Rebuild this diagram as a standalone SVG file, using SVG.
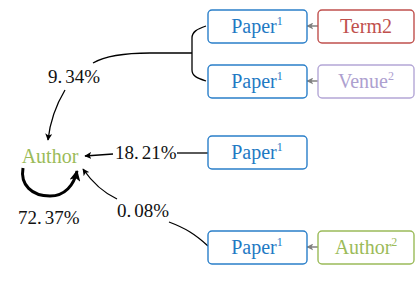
<svg xmlns="http://www.w3.org/2000/svg" width="415" height="297" viewBox="0 0 415 297">
<style>
.box{fill:#fff;stroke-width:1.4}
.t{font-family:"Liberation Serif","Times New Roman",serif;font-size:20px;text-anchor:middle}
.lbl{font-family:"Liberation Serif","Times New Roman",serif;font-size:19px;fill:#111}
.sup{font-size:12px}
.blue{stroke:#2a7fc9;fill:#fff}
.bt{fill:#1f7ac4}
.conn{fill:none;stroke:#000;stroke-width:1.3}
.gray{fill:none;stroke:#808080;stroke-width:1.5}
</style>
<defs>
<marker id="ah" viewBox="0 0 10 10" refX="9" refY="5" markerWidth="7" markerHeight="7" orient="auto" markerUnits="userSpaceOnUse">
<path d="M0,0 L10,5 L0,10 L2.5,5 z" fill="#000"/>
</marker>
<marker id="ahb" viewBox="0 0 10 10" refX="9" refY="5" markerWidth="11" markerHeight="11" orient="auto" markerUnits="userSpaceOnUse">
<path d="M0,0 L10,5 L0,10 L2.5,5 z" fill="#000"/>
</marker>
<marker id="ahg" viewBox="0 0 10 10" refX="9" refY="5" markerWidth="7" markerHeight="7" orient="auto" markerUnits="userSpaceOnUse">
<path d="M0,0 L10,5 L0,10 L2.5,5 z" fill="#808080"/>
</marker>
</defs>

<g id="connectors">
<path class="conn" d="M206,26 C197,29 192,32 192,38 L192,70 C192,76 197,78 206,81"/>
<path class="conn" d="M192,53 L150,53 C125,53 105,56 93,63"/>
<path class="conn" d="M65,90 C56,105 50,122 48,140" marker-end="url(#ah)"/>
<path class="conn" d="M208,153 L177,153"/>
<path class="conn" d="M113,154 L85,156" marker-end="url(#ah)"/>
<path class="conn" d="M208,246 C195,234 185,228 169,222"/>
<path class="conn" d="M117,199 C102,192 92,182 83,169" marker-end="url(#ah)"/>
<path d="M23,168 C20,185 32,196 50,196 C65,196 74,185 77,171" fill="none" stroke="#000" stroke-width="3" marker-end="url(#ahb)"/>
<path class="gray" d="M318,26 L307,26" marker-end="url(#ahg)"/>
<path class="gray" d="M318,81 L307,81" marker-end="url(#ahg)"/>
<path class="gray" d="M318,247 L307,247" marker-end="url(#ahg)"/>
</g>

<g id="lbl934"><text class="lbl" x="48" y="83">9.<tspan dx="3">34%</tspan></text></g>
<g id="lbl1821"><text class="lbl" x="115" y="159">18.<tspan dx="3">21%</tspan></text></g>
<g id="lbl008"><text class="lbl" x="117" y="217">0.<tspan dx="3">08%</tspan></text></g>
<g id="lbl7237"><text class="lbl" x="18" y="224">72.<tspan dx="3">37%</tspan></text></g>

<g id="author"><text class="t" x="50" y="163" fill="#9bbb59">Author</text></g>

<g id="paper1">
<rect class="box blue" x="208" y="10" width="99" height="33" rx="4"/>
<text class="t bt" x="257" y="33">Paper<tspan class="sup" dy="-8">1</tspan></text>
</g>
<g id="term2">
<rect class="box" x="318" y="10" width="96" height="33" rx="4" stroke="#c0504d"/>
<text class="t" x="366" y="33" fill="#c0504d">Term2</text>
</g>
<g id="paper2">
<rect class="box blue" x="208" y="65" width="99" height="33" rx="4"/>
<text class="t bt" x="257" y="88">Paper<tspan class="sup" dy="-8">1</tspan></text>
</g>
<g id="venue">
<rect class="box" x="318" y="65" width="96" height="33" rx="4" stroke="#b4a7d6"/>
<text class="t" x="366" y="88" fill="#ada0cf">Venue<tspan class="sup" dy="-8">2</tspan></text>
</g>
<g id="paper3">
<rect class="box blue" x="208" y="136" width="99" height="33" rx="4"/>
<text class="t bt" x="257" y="159">Paper<tspan class="sup" dy="-8">1</tspan></text>
</g>
<g id="paper4">
<rect class="box blue" x="208" y="231" width="99" height="33" rx="4"/>
<text class="t bt" x="257" y="254">Paper<tspan class="sup" dy="-8">1</tspan></text>
</g>
<g id="author2">
<rect class="box" x="318" y="231" width="96" height="33" rx="4" stroke="#9bbb59"/>
<text class="t" x="366" y="254" fill="#9bbb59">Author<tspan class="sup" dy="-8">2</tspan></text>
</g>
</svg>
